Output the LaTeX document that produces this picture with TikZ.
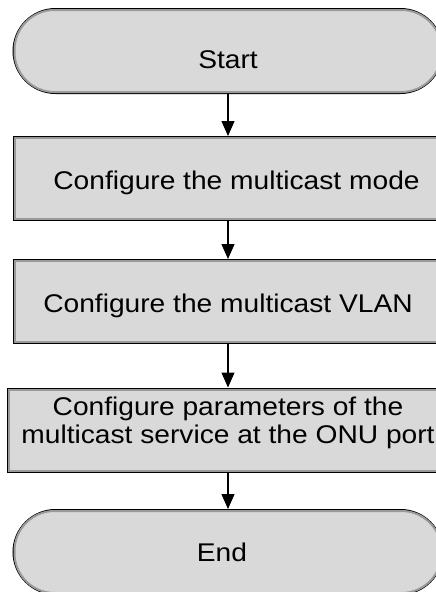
\documentclass[tikz,border=0pt]{standalone}
\usepackage{fontspec}
\setmainfont{Liberation Sans}[FakeStretch=1.1]
\usetikzlibrary{shapes.misc,arrows.meta,calc}
\definecolor{boxfill}{HTML}{D9D9D9}
\definecolor{bandgray}{HTML}{9A9A9A}
\newcommand{\shiftdown}[2]{\raisebox{-#1}[\height][\depth]{#2}}
\tikzset{
  base/.style={draw=black, line width=2pt, fill=boxfill, inner sep=0pt,
    minimum width=429pt, font=\fontsize{25.6}{28}\selectfont, align=center},
  term/.style={base, rounded rectangle, minimum height=84pt},
  stepbox/.style={base, rectangle, minimum height=83pt},
  band/.style={draw=bandgray, line width=2pt},
  flow/.style={line width=1.2pt, -{Triangle[length=15pt,width=13pt]}}
}
\begin{document}
\begin{tikzpicture}[x=1pt,y=-1pt]
\useasboundingbox (0,0) rectangle (436,592);
\clip (0,0) rectangle (436,592);
\fill[white] (0,0) rectangle (436,592);

\node[term] (start) at (228,51) {\shiftdown{9pt}{Start}};
\node[stepbox] (mode) at (228,178.5) {\shiftdown{4pt}{\hspace*{17pt}Configure the multicast mode}};
\node[stepbox] (vlan) at (228,301.5) {\shiftdown{4pt}{Configure the multicast VLAN}};
\node[stepbox] (onu) at (228,430) {\shiftdown{-7pt}{\parbox{440pt}{\centering Configure parameters of the\\multicast service at the ONU port}}};
\node[term] (end) at (228,552) {\hspace*{-12pt}End};

% inner gray bands
\draw[band, rounded corners=40pt] ($(start.west|-start.north)+(2,2)$) rectangle ($(start.east|-start.south)+(-2,-2)$);
\draw[band] ($(mode.north west)+(2,2)$) rectangle ($(mode.south east)+(-2,-2)$);
\draw[band] ($(vlan.north west)+(2,2)$) rectangle ($(vlan.south east)+(-2,-2)$);
\draw[band] ($(onu.north west)+(2,2)$) rectangle ($(onu.south east)+(-2,-2)$);
\draw[band, rounded corners=40pt] ($(end.west|-end.north)+(2,2)$) rectangle ($(end.east|-end.south)+(-2,-2)$);

\draw[flow] (start.south) -- (mode.north);
\draw[flow] (mode.south) -- (vlan.north);
\draw[flow] (vlan.south) -- (onu.north);
\draw[flow] (onu.south) -- (end.north);
\end{tikzpicture}
\end{document}
